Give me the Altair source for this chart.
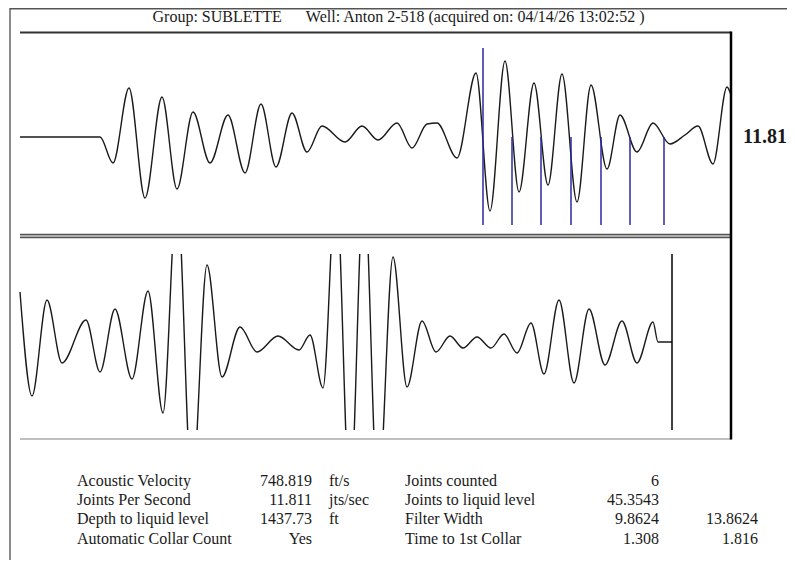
import altair as alt
import pandas as pd

# ---------------- data ----------------
title_text = ("Group: SUBLETTE\u00a0\u00a0\u00a0\u00a0\u00a0\u00a0"
              "Well: Anton 2-518 (acquired on: 04/14/26 13:02:52 )")
jps_text = "11.81"

# upper trace (time sample, amplitude)
top_t = [0, 80, 93, 109, 125, 142, 157, 173, 190, 208, 225, 241, 256, 272, 287,
         302, 325, 342, 358, 377, 392, 407, 417, 437, 456, 470, 485, 499, 514,
         528, 542, 557, 571, 587, 600, 617, 633, 650, 665, 678, 693, 707, 711]
top_amp = [0, 0, -0.26, 0.49, -0.61, 0.40, -0.52, 0.25, -0.26, 0.22, -0.36, 0.33,
           -0.30, 0.24, -0.15, 0.11, -0.05, 0.11, -0.03, 0.14, -0.11, 0.13, 0.14,
           -0.21, 0.64, -0.74, 0.76, -0.55, 0.54, -0.48, 0.63, -0.65, 0.52, -0.32,
           0.22, -0.15, 0.14, -0.07, 0.02, 0.11, -0.27, 0.50, 0.42]

# collar markers on the upper trace
collar_t = [463, 492, 521, 551, 581, 610, 644]
collar_top = [0.89, 0, 0, 0, 0, 0, 0]
collar_bottom = [-0.88] * 7

# lower trace (time sample, amplitude)
bot_t = [0, 12, 27, 42, 66, 80, 95, 112, 128, 143, 157, 172, 187, 202, 220, 237,
         258, 279, 290, 303, 316, 330, 344, 358, 373, 387, 402, 416, 430, 443,
         457, 471, 484, 497, 511, 524, 539, 554, 569, 585, 602, 617, 633, 638, 652]
bot_amp = [0.50, -0.54, 0.42, -0.21, 0.22, -0.30, 0.33, -0.37, 0.51, -0.71, 1.5,
           -1.5, 0.77, -0.35, 0.15, -0.10, 0.06, -0.08, 0.07, -0.46, 1.6, -1.6,
           1.6, -1.6, 0.85, -0.45, 0.21, -0.10, 0.06, -0.06, 0.05, -0.06, 0.08,
           -0.11, 0.19, -0.32, 0.42, -0.41, 0.33, -0.23, 0.21, -0.21, 0.20, 0.0, 0.0]

# liquid level marker on the lower trace
liquid_t = [652]
liquid_top = [0.88]
liquid_bottom = [-0.88]

# results table
labels1 = ["Acoustic Velocity", "Joints Per Second", "Depth to liquid level",
           "Automatic Collar Count"]
values1 = ["748.819", "11.811", "1437.73", "Yes"]
units1 = ["ft/s", "jts/sec", "ft", ""]
labels2 = ["Joints counted", "Joints to liquid level", "Filter Width",
           "Time to 1st Collar"]
values2 = ["6", "45.3543", "9.8624", "1.308"]
values3 = ["", "", "13.8624", "1.816"]
rows = [0, 1, 2, 3]

# ---------------- layout ----------------
W, H = 779, 552
FONT = "Liberation Serif"
INK = "#1a1a1a"

x_scale = alt.Scale(domain=[0, 711], range=[12, 723])
y_top = alt.Scale(domain=[-1, 1], range=[229, 29])
y_bot = alt.Scale(domain=[-1, 1], range=[434, 234])
y_row = alt.Scale(domain=[0, 3], range=[478, 535.5])

top_df = pd.DataFrame({"t": top_t, "a": top_amp})
bot_df = pd.DataFrame({"t": bot_t, "a": bot_amp})
col_df = pd.DataFrame({"t": collar_t, "a": collar_top, "b": collar_bottom})
liq_df = pd.DataFrame({"t": liquid_t, "a": liquid_top, "b": liquid_bottom})
tab_df = pd.DataFrame({"row": rows, "l1": labels1, "v1": values1, "u1": units1,
                       "l2": labels2, "v2": values2, "v3": values3})
one = pd.DataFrame({"title": [title_text], "jps": [jps_text]})


def hline(x1, x2, y, color, width):
    return alt.Chart(one).mark_rule(color=color, strokeWidth=width).encode(
        x=alt.value(x1), x2=alt.value(x2), y=alt.value(y))


def vline(x, y1, y2, color, width):
    return alt.Chart(one).mark_rule(color=color, strokeWidth=width).encode(
        x=alt.value(x), y=alt.value(y1), y2=alt.value(y2))


def box(x1, x2, y1, y2, color):
    return alt.Chart(one).mark_rect(color=color).encode(
        x=alt.value(x1), x2=alt.value(x2), y=alt.value(y1), y2=alt.value(y2))


top_wave = alt.Chart(top_df).mark_line(
    color=INK, strokeWidth=1.4, interpolate="monotone").encode(
    x=alt.X("t:Q", scale=x_scale, axis=None),
    y=alt.Y("a:Q", scale=y_top, axis=None))

collars = alt.Chart(col_df).mark_rule(color="#2a2a9c", strokeWidth=1.5).encode(
    x=alt.X("t:Q", scale=x_scale, axis=None),
    y=alt.Y("a:Q", scale=y_top, axis=None),
    y2="b:Q")

bot_wave = alt.Chart(bot_df).mark_line(
    color=INK, strokeWidth=1.4, interpolate="monotone").encode(
    x=alt.X("t:Q", scale=x_scale, axis=None),
    y=alt.Y("a:Q", scale=y_bot, axis=None))

# the lower trace is clipped to its plotting band (page y 254..430)
mask_top = box(11, 722, 120, 246, "white")
mask_bot = box(11, 722, 422, H, "white")

liquid = alt.Chart(liq_df).mark_rule(color="#000000", strokeWidth=1.5).encode(
    x=alt.X("t:Q", scale=x_scale, axis=None),
    y=alt.Y("a:Q", scale=y_bot, axis=None),
    y2="b:Q")

title = alt.Chart(one).mark_text(
    font=FONT, fontSize=16, color=INK, align="center", baseline="alphabetic").encode(
    x=alt.value(390.5), y=alt.value(13.5), text="title:N")

jps = alt.Chart(one).mark_text(
    font=FONT, fontSize=20, fontWeight="bold", color=INK, align="right",
    baseline="alphabetic").encode(
    x=alt.value(779), y=alt.value(135), text="jps:N")


def col(field, x, align):
    return alt.Chart(tab_df).mark_text(
        font=FONT, fontSize=16, color=INK, align=align, baseline="alphabetic").encode(
        x=alt.value(x),
        y=alt.Y("row:Q", scale=y_row, axis=None),
        text=f"{field}:N")


frame = [
    vline(2, 0, H, "#666666", 1.5),
    hline(2, W, 0.75, "#555555", 1.5),
    hline(12, 723, 24.5, "#333333", 2),
    box(12, 723, 226, 229.5, "#cccccc"),
    hline(12, 723, 226.5, "#555555", 1.3),
    hline(12, 723, 229.5, "#555555", 1.3),
    hline(12, 723, 431, "#aaaaaa", 1.5),
    vline(723, 23.5, 431.5, "#000000", 2.5),
]

chart = alt.layer(
    bot_wave, mask_top, mask_bot, liquid, top_wave, collars, *frame,
    title, jps,
    col("l1", 69, "left"), col("v1", 304, "right"), col("u1", 321, "left"),
    col("l2", 397, "left"), col("v2", 651, "right"), col("v3", 750, "right"),
).resolve_scale(x="independent", y="independent").properties(
    width=W, height=H, padding=0,
    autosize=alt.AutoSizeParams(type="none"),
).configure_view(stroke=None)

chart.save("out.html", embed_options={"renderer": "svg", "actions": False})
